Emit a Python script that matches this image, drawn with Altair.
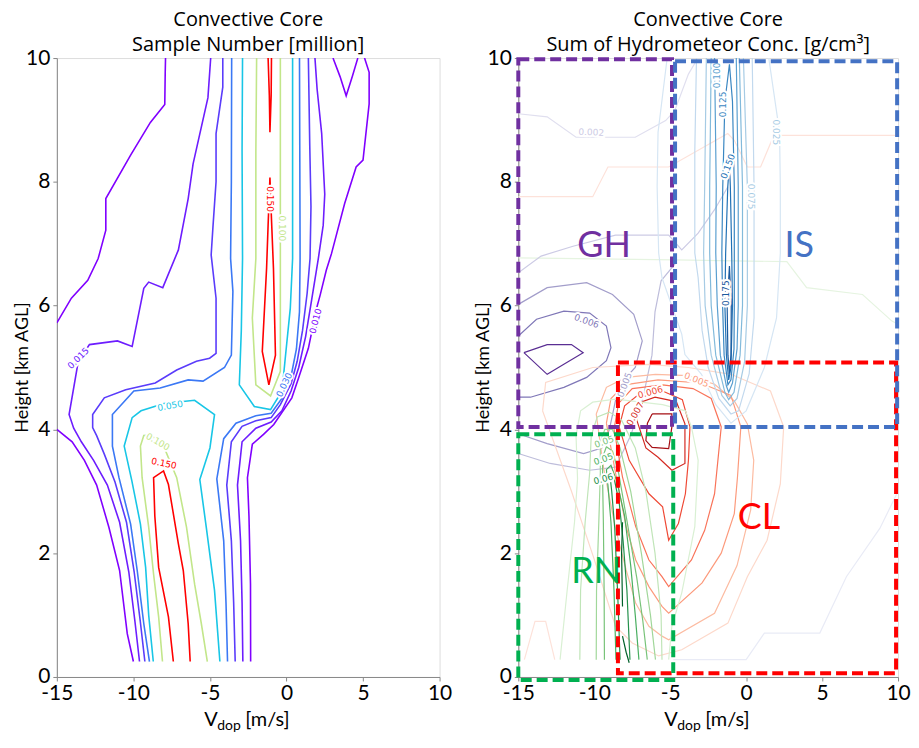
import altair as alt
import pandas as pd

FONT = "Lato"
TITLE_FONT = "Open Sans"
X_TICKS = [-15, -10, -5, 0, 5, 10]
Y_TICKS = [0, 2, 4, 6, 8, 10]

# ================= LEFT PANEL : Sample Number [million] =================
# each list: contour polyline points (Vdop [m/s], height [km])
SN_OUT_LL = [(-10.0,0.25),(-10.4,0.7),(-10.9,1.72),(-11.6,2.42),(-12.4,3.1),(-13.2,3.5),(-14.0,3.8),(-15.0,4.0)]
SN_OUT_UL = [(-15.0,5.72),(-14.05,6.12),(-12.98,6.41),(-12.3,6.76),(-11.8,7.22),(-11.8,7.73),(-10.18,8.43),(-8.89,8.96),(-7.95,9.25),(-7.92,9.77),(-7.9,10.0)]
SN_OUT_R = [(-2.34,0.25),(-2.35,1.5),(-2.45,2.6),(-2.55,3.22),(-2.23,3.76),(-1.5,3.92),(-0.83,4.08),(0.35,4.51),(0.79,4.83),(1.43,5.31),(1.97,5.96),(2.2,6.17),(2.6,6.57),(2.94,6.84),(3.8,7.65),(4.55,8.24),(5.0,8.35),(5.4,9.26),(5.4,9.77),(5.1,10.0)]
SN_OUT_V = [(3.04,10.0),(3.5,9.7),(3.9,9.39),(4.3,9.7),(4.66,10.0)]
SN_B_L = [(-9.6,0.25),(-9.9,0.9),(-10.3,1.7),(-10.9,2.5),(-11.7,3.1),(-12.6,3.5),(-13.4,3.8),(-13.9,4.02),(-14.2,4.24),(-13.6,5.1),(-12.87,5.37),(-11.04,5.43),(-10.08,5.34),(-9.32,6.28),(-9.0,6.38),(-8.08,6.29),(-7.06,6.9),(-6.42,7.73),(-6.1,8.29),(-5.13,9.36),(-4.95,10.0)]
SN_B_R = [(-2.85,0.25),(-2.9,1.2),(-3.0,2.2),(-3.2,3.1),(-2.9,3.8),(-2.0,4.02),(-1.0,4.12),(-0.3,4.3),(0.3,4.62),(0.8,5.0),(1.25,5.5),(1.65,6.1),(2.08,6.76),(2.4,7.3),(2.5,7.8),(2.3,8.78),(2.0,9.5),(1.86,10.0)]
SN_C_L = [(-9.25,0.25),(-9.55,0.9),(-9.95,1.7),(-10.45,2.5),(-11.2,3.15),(-11.9,3.6),(-12.4,3.9),(-12.66,4.03),(-12.66,4.24),(-11.9,4.51),(-10.5,4.64),(-8.57,4.75),(-7.17,4.96),(-5.88,5.1),(-5.02,5.15),(-4.6,5.23),(-4.6,6.12),(-4.92,6.82),(-4.8,7.28),(-4.6,8.0),(-4.6,8.78),(-4.16,9.53),(-4.16,10.0)]
SN_C_R = [(-3.35,0.25),(-3.45,1.2),(-3.6,2.2),(-3.9,3.1),(-3.6,3.8),(-2.9,4.05),(-2.0,4.14),(-1.0,4.19),(-0.4,4.4),(0.3,4.74),(0.7,5.1),(1.05,5.6),(1.35,6.2),(1.54,6.76),(1.6,7.6),(1.52,8.6),(1.43,10.0)]
SN_D_L = [(-8.95,0.25),(-9.32,0.86),(-9.75,1.72),(-10.18,2.47),(-10.94,3.22),(-11.37,3.73),(-11.37,4.24),(-9.97,4.62),(-8.25,4.67),(-6.42,4.8),(-5.45,4.78),(-4.05,5.0),(-3.6,5.2),(-3.5,6.23),(-3.65,6.76),(-3.6,8.0),(-3.58,10.0)]
SN_D_R = [(-3.85,0.25),(-3.95,1.2),(-4.1,2.2),(-4.55,3.2),(-4.1,3.85),(-3.3,4.1),(-2.0,4.22),(-1.0,4.26),(-0.3,4.5),(0.3,4.86),(0.65,5.3),(0.85,5.9),(0.89,6.76),(0.87,8.5),(0.85,10.0)]
SN_CY_LOW = [(-8.7,0.25),(-9.0,1.0),(-9.2,1.77),(-9.54,2.47),(-10.1,3.17),(-10.6,3.73),(-10.08,4.19),(-9.5,4.3),(-8.0,4.42),(-6.0,4.47),(-4.7,4.24),(-5.0,3.7),(-5.66,3.19),(-5.24,2.42),(-4.7,1.4),(-4.35,0.25)]
SN_CY_UP = [(-2.87,10.0),(-2.9,8.5),(-2.87,6.76),(-2.95,5.6),(-3.08,4.72),(-2.1,4.37),(-1.04,4.32),(-0.29,4.62),(-0.08,5.15),(0.25,5.96),(0.4,6.76),(0.4,8.5),(0.4,10.0)]
SN_YG_LOW = [(-8.1,0.25),(-8.35,0.97),(-8.68,1.66),(-9.0,2.42),(-9.43,3.22),(-9.54,3.73),(-9.32,3.9),(-9.0,3.91),(-8.16,3.81),(-7.17,3.22),(-6.53,2.42),(-6.0,1.5),(-5.56,0.86),(-5.17,0.25)]
SN_YG_UP = [(-1.95,10.0),(-2.0,8.5),(-2.0,6.76),(-2.23,5.8),(-2.0,4.72),(-1.04,4.54),(-0.4,4.94),(-0.4,6.76),(-0.4,8.5),(-0.4,10.0)]
SN_RD_LOW = [(-7.39,0.25),(-7.71,0.97),(-8.35,1.77),(-8.6,2.6),(-8.68,3.22),(-8.03,3.33),(-7.71,3.11),(-7.06,2.15),(-6.74,1.72),(-6.42,0.86),(-6.29,0.25)]
SN_RD_UP = [(-1.08,8.07),(-1.2,7.3),(-1.3,6.6),(-1.58,5.26),(-1.15,4.72),(-0.72,5.2),(-0.85,6.6),(-0.98,7.4),(-1.08,8.07)]
SN_RD_TOP = [(-1.2,10.0),(-1.12,9.4),(-1.08,8.8),(-1.0,9.4),(-0.98,10.0)]

SN_LEVEL_COLORS = {"p0": "#8000ff", "p1": "#6d1dfe", "p2": "#5a3cfb", "b": "#3b78f5",
                   "cy": "#18c6e6", "yg": "#c2e68a", "rd": "#ff0000"}
SN_LINES = [("SN_OUT_LL", SN_OUT_LL, "p0"), ("SN_OUT_UL", SN_OUT_UL, "p0"), ("SN_OUT_R", SN_OUT_R, "p0"),
            ("SN_OUT_V", SN_OUT_V, "p0"), ("SN_B_L", SN_B_L, "p1"), ("SN_B_R", SN_B_R, "p1"),
            ("SN_C_L", SN_C_L, "p2"), ("SN_C_R", SN_C_R, "p2"), ("SN_D_L", SN_D_L, "b"), ("SN_D_R", SN_D_R, "b"),
            ("SN_CY_LOW", SN_CY_LOW, "cy"), ("SN_CY_UP", SN_CY_UP, "cy"), ("SN_YG_LOW", SN_YG_LOW, "yg"),
            ("SN_YG_UP", SN_YG_UP, "yg"), ("SN_RD_LOW", SN_RD_LOW, "rd"), ("SN_RD_UP", SN_RD_UP, "rd"),
            ("SN_RD_TOP", SN_RD_TOP, "rd")]

SN_LAB_TEXT = ["0.015", "0.010", "0.030", "0.050", "0.100", "0.150", "0.100", "0.150"]
SN_LAB_X = [-13.6, 1.9, -0.15, -7.6, -8.4, -8.0, -0.3, -1.1]
SN_LAB_Y = [5.15, 5.75, 4.72, 4.38, 3.8, 3.45, 7.25, 7.72]
SN_LAB_ANGLE = [315, 285, 295, 350, 30, 12, 90, 90]
SN_LAB_LEVEL = ["p1", "p0", "b", "cy", "yg", "rd", "yg", "rd"]

# ================= RIGHT PANEL : Sum of Hydrometeor Conc. =================
# faint background contours
HF_GREEN = [(-15.0,6.77),(-4.68,6.74),(2.68,6.71),(3.98,6.29),(7.66,6.18),(9.6,5.75),(10.0,5.7)]
HF_SALMON = [(-15.0,7.76),(-10.1,7.76),(-9.1,8.24),(-5.1,8.24),(-1.21,8.78),(-0.78,8.67),(0.08,8.24),(0.95,8.24),(1.82,8.75),(10.0,8.75)]
HF_LAV = [(-4.8,0.28),(0.0,0.28),(1.2,0.71),(4.85,0.71),(6.6,1.62),(8.8,2.4),(10.0,3.0)]
HF_RED_LOW = [(-14.6,0.28),(-13.9,0.9),(-13.2,0.9),(-12.6,0.28)]
# graupel / hail (purples)
GH_A = [(-15.0,9.1),(-13.1,9.05),(-11.2,8.72),(-7.3,8.72),(-5.3,8.99),(-4.7,9.15),(-3.8,9.74),(-3.27,9.96)]
GH_B = [(-15.0,6.53),(-13.5,6.8),(-11.4,6.96),(-8.6,7.14),(-5.1,7.14),(-4.24,6.9),(-3.16,7.17),(-2.08,7.55),(-1.2,7.92)]
GH_F = [(-15.0,3.61),(-12.9,3.45),(-10.3,3.34),(-8.6,3.39),(-7.6,3.9),(-6.8,4.5),(-6.2,5.2),(-6.0,5.9),(-5.6,6.4),(-4.6,6.7)]
GH_C = [(-15.0,6.02),(-13.1,6.29),(-10.5,6.37),(-8.8,6.18),(-7.4,5.86),(-6.84,5.43),(-7.3,5.0),(-7.9,4.84),(-8.6,4.47),(-9.0,4.0),(-9.5,3.7),(-10.7,3.61),(-13.1,3.77),(-15.0,3.93)]
GH_D = [(-15.0,5.51),(-13.8,5.78),(-12.0,5.91),(-10.3,5.88),(-9.2,5.67),(-8.9,5.32),(-9.2,5.11),(-10.5,4.84),(-12.0,4.68),(-14.2,4.52),(-15.0,4.52)]
GH_E = [(-14.63,5.24),(-13.1,5.37),(-11.5,5.37),(-10.73,5.24),(-12.03,5.05),(-13.1,4.89),(-14.63,5.24)]
# cloud (reds)
CL_1 = [(-13.4,4.3),(-13.2,4.76),(-10.1,5.0),(-6.4,5.05),(-3.8,5.0),(-1.0,4.89),(1.6,4.62),(2.47,4.04),(2.25,3.12),(1.38,2.21),(0.08,1.62),(-1.2,0.87),(-4.24,0.44),(-5.76,0.34),(-7.5,0.55),(-8.6,0.82),(-10.0,1.9),(-11.5,3.0),(-13.4,4.3)]
CL_2 = [(-9.87,4.25),(-9.4,3.4),(-8.6,2.4),(-7.9,1.73),(-7.27,1.19),(-6.4,0.82),(-5.54,0.66),(-5.1,0.6),(-2.08,1.03),(-0.6,1.8),(0.3,2.7),(0.5,3.5),(0.08,4.09),(-0.78,4.46),(-2.08,4.73),(-3.8,4.87),(-5.97,4.89),(-7.9,4.84),(-9.2,4.68),(-9.87,4.25)]
CL_3 = [(-9.2,4.1),(-8.6,3.3),(-7.9,2.43),(-7.27,1.89),(-6.4,1.46),(-5.54,1.14),(-5.1,1.03),(-2.9,1.52),(-1.64,2.0),(-0.78,2.64),(-0.57,3.23),(-0.35,4.04),(-1.0,4.55),(-3.0,4.75),(-5.8,4.8),(-8.0,4.72),(-8.9,4.5),(-9.2,4.1)]
CL_4 = [(-8.7,4.0),(-8.14,3.23),(-7.27,2.43),(-6.4,1.89),(-5.54,1.62),(-5.1,1.46),(-3.6,1.89),(-2.73,2.37),(-2.08,2.96),(-1.86,3.5),(-1.64,4.04),(-2.3,4.5),(-3.5,4.66),(-5.5,4.72),(-7.5,4.66),(-8.4,4.42),(-8.7,4.0)]
CL_5 = [(-8.36,4.04),(-7.7,3.5),(-6.4,2.96),(-5.5,2.75),(-5.1,2.21),(-4.46,2.48),(-4.0,2.96),(-3.8,3.5),(-3.7,4.04),(-4.2,4.48),(-5.5,4.62),(-7.0,4.58),(-8.0,4.38),(-8.36,4.04)]
CL_6 = [(-7.2,4.15),(-6.8,4.45),(-6.0,4.52),(-4.6,4.45),(-4.03,4.09),(-4.03,3.45),(-4.89,3.34),(-5.8,3.55),(-6.6,3.7),(-7.2,4.15)]
CL_7 = [(-6.19,4.25),(-4.89,4.25),(-4.89,4.04),(-5.1,3.69),(-6.19,3.71),(-6.6,3.82),(-6.5,4.1),(-6.19,4.25)]
# rain (greens)
RN_1 = [(-12.25,0.28),(-11.8,1.36),(-11.3,2.5),(-11.1,3.2),(-11.2,3.9),(-10.9,4.3),(-10.1,4.44),(-8.6,4.49),(-7.2,4.45),(-5.5,4.4),(-4.0,4.3),(-3.6,4.04),(-3.16,3.5),(-3.38,2.43),(-4.24,1.36),(-4.89,0.82),(-5.1,0.28)]
RN_2 = [(-10.95,0.28),(-10.9,1.4),(-10.6,2.5),(-10.3,3.3),(-10.2,3.9),(-9.8,4.2),(-9.0,4.28),(-8.2,4.15),(-7.3,3.7),(-6.6,3.0),(-6.0,2.0),(-5.6,1.0),(-5.54,0.28)]
RN_3 = [(-9.87,0.28),(-9.85,1.4),(-9.7,2.5),(-9.6,3.3),(-9.6,3.8),(-9.3,4.0),(-8.8,4.0),(-8.3,3.7),(-7.6,3.0),(-6.9,2.0),(-6.3,1.0),(-5.97,0.28)]
RN_4 = [(-9.33,0.28),(-9.35,1.4),(-9.4,2.5),(-9.45,3.2),(-9.45,3.55),(-9.2,3.72),(-8.8,3.65),(-8.4,3.3),(-7.9,2.6),(-7.2,1.6),(-6.8,0.9),(-6.51,0.28)]
RN_5 = [(-8.57,0.28),(-8.7,1.4),(-8.9,2.5),(-9.1,3.1),(-9.2,3.35),(-8.9,3.42),(-8.5,3.15),(-8.0,2.6),(-7.6,1.8),(-7.3,1.0),(-7.06,0.28)]
RN_6 = [(-8.3,0.28),(-8.45,1.3),(-8.65,2.4),(-8.85,3.0),(-8.95,3.22),(-8.7,3.22),(-8.35,2.8),(-8.1,2.2),(-7.85,1.4),(-7.65,0.28)]
RN_7A = [(-8.14,2.5),(-8.2,2.0),(-8.14,1.14)]
RN_7B = [(-8.14,0.66),(-7.9,0.4),(-7.7,0.23)]
# ice / snow (blues)
IS_1 = [(-5.2,10.0),(-5.8,8.8),(-5.86,7.92),(-5.76,6.85),(-5.54,6.45),(-4.24,5.54),(-4.03,5.21),(-2.94,4.89),(-2.0,4.4),(-1.0,4.1),(0.0,4.3),(1.2,5.0),(2.0,5.8),(2.25,6.85),(2.25,7.92),(2.2,8.8),(1.49,10.0)]
IS_2 = [(-3.27,10.0),(-3.38,8.5),(-3.38,7.92),(-3.38,6.85),(-3.16,6.45),(-2.9,5.6),(-2.5,5.0),(-1.8,4.5),(-1.0,4.25),(-0.5,4.3),(0.2,4.9),(0.52,5.8),(0.52,6.85),(0.52,7.92),(0.4,10.0)]
IS_3 = [(-2.62,10.0),(-2.73,7.92),(-2.8,6.85),(-2.7,6.0),(-2.3,5.2),(-1.6,4.55),(-1.05,4.38),(-0.6,4.5),(-0.1,5.1),(0.08,6.0),(0.08,7.92),(-0.18,10.0)]
IS_4 = [(-2.3,10.0),(-2.4,7.92),(-2.4,6.85),(-2.3,6.0),(-2.0,5.2),(-1.4,4.6),(-1.15,4.48),(-0.8,4.6),(-0.4,5.2),(-0.24,6.0),(-0.24,7.92),(-0.45,10.0)]
IS_5 = [(-2.08,10.0),(-1.97,7.92),(-2.0,6.85),(-1.9,6.0),(-1.7,5.2),(-1.3,4.7),(-1.15,4.6),(-0.9,4.75),(-0.6,5.3),(-0.52,6.0),(-0.52,7.92),(-0.65,10.0)]
IS_6 = [(-1.1,9.9),(-1.4,9.3),(-1.54,7.92),(-1.6,6.85),(-1.55,6.0),(-1.45,5.2),(-1.2,4.72),(-1.0,4.8),(-0.8,5.3),(-0.78,6.0),(-0.78,7.92),(-0.9,9.3),(-1.1,9.9)]
IS_7 = [(-1.1,8.3),(-1.21,7.92),(-1.35,6.85),(-1.4,6.0),(-1.3,5.2),(-1.15,4.8),(-1.0,5.0),(-0.9,6.0),(-0.95,6.85),(-1.04,7.92),(-1.1,8.3)]
IS_8 = [(-1.1,6.64),(-1.25,6.0),(-1.2,5.2),(-1.1,4.9),(-1.0,5.2),(-0.98,6.0),(-1.1,6.64)]

HC_LEVEL_COLORS = {
    "fg": "#e6f4e1", "fs": "#fde2da", "fl": "#e9ebf6", "fr": "#fde2da",
    "gh1": "#e0dfef", "gh2": "#cdcbe5", "gh3": "#bebddb", "gh4": "#a29dca", "gh5": "#7f77b7", "gh6": "#5a2e93",
    "cl1": "#fdd9cb", "cl2": "#fcbba1", "cl3": "#fc9a7c", "cl4": "#f9745a", "cl5": "#ef4a36", "cl6": "#d42a22", "cl7": "#a50f15",
    "rn1": "#d9f0d3", "rn2": "#c0e5b8", "rn3": "#a1d79a", "rn4": "#78c379", "rn5": "#4aaf61", "rn6": "#23904a", "rn7": "#00602a",
    "is1": "#d6e6f4", "is2": "#c2d9ee", "is3": "#a6cbe4", "is4": "#82badb", "is5": "#5a9fd0", "is6": "#3a87c2", "is7": "#2171b5", "is8": "#1a5a9e",
}
HC_LINES = [("HF_GREEN", HF_GREEN, "fg"), ("HF_SALMON", HF_SALMON, "fs"), ("HF_LAV", HF_LAV, "fl"), ("HF_RED_LOW", HF_RED_LOW, "fr"),
            ("GH_A", GH_A, "gh1"), ("GH_B", GH_B, "gh2"), ("GH_F", GH_F, "gh3"), ("GH_C", GH_C, "gh4"), ("GH_D", GH_D, "gh5"), ("GH_E", GH_E, "gh6"),
            ("CL_1", CL_1, "cl1"), ("CL_2", CL_2, "cl2"), ("CL_3", CL_3, "cl3"), ("CL_4", CL_4, "cl4"), ("CL_5", CL_5, "cl5"), ("CL_6", CL_6, "cl6"), ("CL_7", CL_7, "cl7"),
            ("RN_1", RN_1, "rn1"), ("RN_2", RN_2, "rn2"), ("RN_3", RN_3, "rn3"), ("RN_4", RN_4, "rn4"), ("RN_5", RN_5, "rn5"), ("RN_6", RN_6, "rn6"), ("RN_7A", RN_7A, "rn7"), ("RN_7B", RN_7B, "rn7"),
            ("IS_1", IS_1, "is1"), ("IS_2", IS_2, "is2"), ("IS_3", IS_3, "is3"), ("IS_4", IS_4, "is4"), ("IS_5", IS_5, "is5"), ("IS_6", IS_6, "is6"), ("IS_7", IS_7, "is7"), ("IS_8", IS_8, "is8")]

HC_LAB_TEXT = ["0.002", "0.006", "0.005", "0.005", "0.006", "0.007", "0.05", "0.05", "0.06",
               "0.025", "0.075", "0.100", "0.125", "0.150", "0.175"]
HC_LAB_X = [-10.2, -10.5, -8.0, -3.27, -6.3, -7.3, -9.35, -9.4, -9.4, 1.95, 0.3, -1.95, -1.5, -1.2, -1.3]
HC_LAB_Y = [8.8, 5.75, 4.72, 4.8, 4.6, 4.25, 3.8, 3.52, 3.2, 8.8, 7.76, 9.72, 9.25, 8.25, 6.2]
HC_LAB_ANGLE = [3, 20, 290, 22, 345, 300, 340, 340, 345, 90, 90, 270, 270, 290, 270]
HC_LAB_LEVEL = ["gh2", "gh5", "gh4", "cl3", "cl5", "cl6", "rn4", "rn5", "rn6", "is3", "is3", "is5", "is6", "is7", "is8"]

# regime boxes (x0, x1, y0, y1) and their names
BOX_NAME = ["CL", "RN", "GH", "IS"]
BOX_X0 = [-8.44, -15.0, -15.0, -4.68]
BOX_X1 = [9.87, -4.8, -4.88, 9.94]
BOX_Y0 = [0.06, -0.05, 4.04, 4.04]
BOX_Y1 = [5.08, 3.92, 9.98, 9.95]
BOX_COLORS = {"CL": "#ff0000", "RN": "#00b050", "GH": "#7030a0", "IS": "#4472c4"}
TAG_TEXT = ["GH", "IS", "CL", "RN"]
TAG_X = [-9.35, 3.5, 0.84, -9.87]
TAG_Y = [6.96, 6.96, 2.56, 1.70]

# ---------------------------------------------------------------------------
WL, WR, H = 384, 381, 621


def lines_frame(specs, colors):
    rows = []
    for name, pts, lev in specs:
        for i, (x, y) in enumerate(pts):
            rows.append({"id": name, "x": x, "y": y, "o": i, "c": colors[lev]})
    return pd.DataFrame(rows)


def labels_frame(txt, xs, ys, angs, levs, colors):
    return pd.DataFrame({"t": txt, "x": xs, "y": ys, "a": angs, "c": [colors[l] for l in levs]})


XS = alt.Scale(domain=[-15, 10], nice=False, zero=False)
YS = alt.Scale(domain=[0, 10], nice=False, zero=False)
AX_COMMON = dict(labelFont=FONT, labelFontSize=21, labelColor="black", tickColor="#888888",
                 domainColor="#888888", tickSize=4, grid=False, labelExpr="'' + datum.value",
                 title=None, labelFlush=False, labelOverlap=False)
XAX = alt.Axis(values=X_TICKS, labelPadding=2, **AX_COMMON)
YAX = alt.Axis(values=Y_TICKS, labelPadding=3, **AX_COMMON)


def axis_title_layers(W):
    c = W / 2
    one = alt.Data(values=[{"k": 1}])
    common = dict(font=FONT, align="left", baseline="alphabetic", color="black")
    v = alt.Chart(one).mark_text(text="V", fontSize=20, **common).encode(
        x=alt.value(c - 44), y=alt.value(H + 49))
    d = alt.Chart(one).mark_text(text="dop", fontSize=14, **common).encode(
        x=alt.value(c - 31), y=alt.value(H + 53))
    u = alt.Chart(one).mark_text(text="[m/s]", fontSize=20, **common).encode(
        x=alt.value(c - 3), y=alt.value(H + 49))
    h = alt.Chart(one).mark_text(text="Height [km AGL]", fontSize=18, font=FONT, align="center",
                                 baseline="middle", angle=270, color="black").encode(
        x=alt.value(-34), y=alt.value(H / 2))
    return [v, d, u, h]


def base_lines(df, sw):
    return alt.Chart(df).mark_line(clip=True, strokeWidth=sw).encode(
        x=alt.X("x:Q", scale=XS, axis=XAX),
        y=alt.Y("y:Q", scale=YS, axis=YAX),
        detail="id:N", order="o:Q",
        color=alt.Color("c:N", scale=None))


def label_layers(df):
    enc = dict(x=alt.X("x:Q", scale=XS), y=alt.Y("y:Q", scale=YS), text="t:N",
               angle=alt.Angle("a:Q", scale=None))
    halo = alt.Chart(df).mark_text(font="DejaVu Sans", fontSize=9, stroke="white", strokeWidth=4,
                                   fill="white").encode(**enc)
    txt = alt.Chart(df).mark_text(font="DejaVu Sans", fontSize=9).encode(
        color=alt.Color("c:N", scale=None), **enc)
    return [halo, txt]


def title(sub):
    return alt.TitleParams(["Convective Core", sub], font=TITLE_FONT, fontSize=20, fontWeight="normal",
                           color="black", lineHeight=25, offset=-8, anchor="middle")


left_df = lines_frame(SN_LINES, SN_LEVEL_COLORS)
left_lab = labels_frame(SN_LAB_TEXT, SN_LAB_X, SN_LAB_Y, SN_LAB_ANGLE, SN_LAB_LEVEL, SN_LEVEL_COLORS)
left = alt.layer(base_lines(left_df, 1.6), *label_layers(left_lab), *axis_title_layers(WL)).properties(
    width=WL, height=H, title=title("Sample Number [million]"))

right_df = lines_frame(HC_LINES, HC_LEVEL_COLORS)
right_lab = labels_frame(HC_LAB_TEXT, HC_LAB_X, HC_LAB_Y, HC_LAB_ANGLE, HC_LAB_LEVEL, HC_LEVEL_COLORS)
box_df = pd.DataFrame({"n": BOX_NAME, "x0": BOX_X0, "x1": BOX_X1, "y0": BOX_Y0, "y1": BOX_Y1,
                       "c": [BOX_COLORS[n] for n in BOX_NAME]})
tag_df = pd.DataFrame({"t": TAG_TEXT, "x": TAG_X, "y": TAG_Y, "c": [BOX_COLORS[n] for n in TAG_TEXT]})

boxes = alt.Chart(box_df).mark_rect(filled=False, strokeWidth=4, strokeDash=[11, 5]).encode(
    x=alt.X("x0:Q", scale=XS), x2="x1:Q", y=alt.Y("y0:Q", scale=YS), y2="y1:Q",
    stroke=alt.Stroke("c:N", scale=None))
tags = alt.Chart(tag_df).mark_text(font=FONT, fontSize=36, align="center", baseline="middle").encode(
    x=alt.X("x:Q", scale=XS), y=alt.Y("y:Q", scale=YS), text="t:N", color=alt.Color("c:N", scale=None))

title_sup = "Sum of Hydrometeor Conc. [g/cm\u00b3]"
right = alt.layer(base_lines(right_df, 1.2), *label_layers(right_lab), boxes, tags,
                  *axis_title_layers(WR)).properties(width=WR, height=H, title=title(title_sup))

chart = alt.hconcat(left, right, spacing=22).properties(
    padding={"left": 5, "top": 0, "right": 0, "bottom": 0}).configure_view(
    stroke="#8c8c8c", strokeWidth=1.2).configure(background="white")

chart.save("out.html", embed_options={"renderer": "svg", "actions": False})
